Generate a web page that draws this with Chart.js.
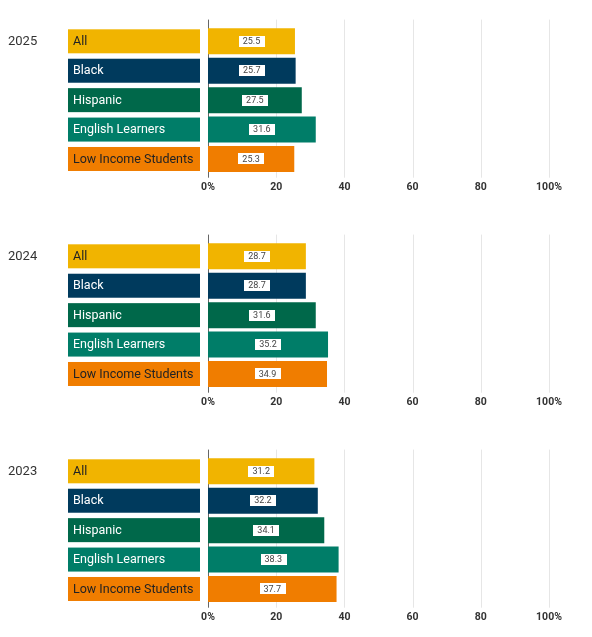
<!DOCTYPE html>
<html>
<head>
<meta charset="utf-8">
<script src="https://cdn.jsdelivr.net/npm/chart.js@4"></script>
<style>
  body { margin: 0; background: #fff; }
  .panel { width: 592px; height: 215px; }
</style>
</head>
<body>
<div class="panel"><canvas id="c2025" width="592" height="215"></canvas></div>
<div class="panel"><canvas id="c2024" width="592" height="215"></canvas></div>
<div class="panel"><canvas id="c2023" width="592" height="215"></canvas></div>
<script>
const years = ['2025', '2024', '2023'];
const groups = ['All', 'Black', 'Hispanic', 'English Learners', 'Low Income Students'];
const values2025 = [25.5, 25.7, 27.5, 31.6, 25.3];
const values2024 = [28.7, 28.7, 31.6, 35.2, 34.9];
const values2023 = [31.2, 32.2, 34.1, 38.3, 37.7];
const tickLabels = ['0%', '20', '40', '60', '80', '100%'];

const groupColors = ['#F1B400', '#003A5D', '#00684A', '#007D68', '#F07D00'];
const groupTextColors = ['#222', '#fff', '#fff', '#fff', '#222'];
const FONT = 'Roboto, "Noto Sans", sans-serif';

const seriesByYear = { '2025': values2025, '2024': values2024, '2023': values2023 };

// grid lines reach a little past the plot area, so draw them from the scale
const gridPlugin = {
    id: 'grid',
    beforeDatasetsDraw(chart) {
        const ctx = chart.ctx;
        const x = chart.scales.x;
        const top = chart.chartArea.top - 7;
        const bottom = chart.chartArea.bottom + 4;
        ctx.save();
        x.ticks.forEach((t, i) => {
            const px = Math.round(x.getPixelForValue(t.value)) + 0.5;
            ctx.strokeStyle = i === 0 ? '#666' : '#e6e6e6';
            ctx.lineWidth = 1;
            ctx.beginPath();
            ctx.moveTo(px, top);
            ctx.lineTo(px, bottom);
            ctx.stroke();
        });
        ctx.restore();
    }
};

const labelPlugin = {
    id: 'groupLabels',
    afterDatasetsDraw(chart, args, opts) {
        const ctx = chart.ctx;
        const meta = chart.getDatasetMeta(0);
        ctx.save();
        // year on the left
        ctx.font = '13px ' + FONT;
        ctx.fillStyle = '#333';
        ctx.textBaseline = 'middle';
        ctx.textAlign = 'left';
        ctx.fillText(opts.year, 8, meta.data[0].y);

        meta.data.forEach((bar, i) => {
            // coloured name box
            ctx.fillStyle = groupColors[i];
            ctx.fillRect(68, bar.y - 12, 132, 24);
            ctx.font = '12.5px ' + FONT;
            ctx.fillStyle = groupTextColors[i];
            ctx.textAlign = 'left';
            ctx.fillText(groups[i], 73, bar.y + 0.5);

            // value tag in the middle of the bar
            const txt = chart.data.datasets[0].data[i].toFixed(1);
            ctx.font = '9px ' + FONT;
            const w = ctx.measureText(txt).width + 8;
            const cx = (bar.base + bar.x) / 2;
            ctx.fillStyle = '#fff';
            ctx.fillRect(Math.round(cx - w / 2), Math.round(bar.y - 5.5), Math.round(w), 11);
            ctx.fillStyle = '#444';
            ctx.textAlign = 'center';
            ctx.fillText(txt, cx, bar.y + 0.5);
        });
        ctx.restore();
    }
};

years.forEach(year => {
    new Chart(document.getElementById('c' + year), {
        type: 'bar',
        data: {
            labels: groups,
            datasets: [{
                data: seriesByYear[year],
                backgroundColor: groupColors,
                categoryPercentage: 1,
                barPercentage: 0.885
            }]
        },
        options: {
            indexAxis: 'y',
            responsive: false,
            animation: false,
            layout: { padding: { left: 208, right: 43, top: 26.6, bottom: 0 } },
            plugins: {
                legend: { display: false },
                tooltip: { enabled: false },
                groupLabels: { year: year }
            },
            scales: {
                x: {
                    min: 0,
                    max: 100,
                    grid: { display: false, drawTicks: false },
                    border: { display: false },
                    afterFit(scale) { scale.height = 41.3; },
                    ticks: {
                        stepSize: 20,
                        padding: 7,
                        color: '#333',
                        font: { family: FONT, size: 10.5, weight: 'bold' },
                        callback: (v, i) => tickLabels[i]
                    }
                },
                y: { display: false }
            }
        },
        plugins: [gridPlugin, labelPlugin]
    });
});
</script>
</body>
</html>
